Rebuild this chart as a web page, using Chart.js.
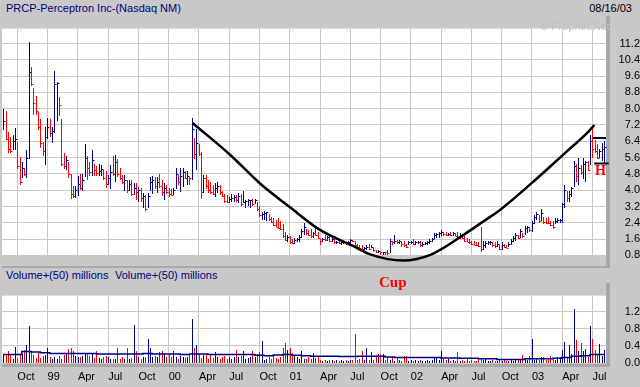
<!DOCTYPE html>
<html>
<head>
<meta charset="utf-8">
<script src="https://cdn.jsdelivr.net/npm/chart.js@4.4.1/dist/chart.umd.min.js"></script>
<style>
  body { margin: 0; width: 640px; height: 387px; overflow: hidden; position: relative;
         background: #c8c8c8; font-family: "Liberation Sans", Arial, sans-serif; }
  canvas { position: absolute; left: 0; }
  .txt { position: absolute; white-space: nowrap; font-size: 11px; line-height: 14px; }
  .mark { position: absolute; white-space: nowrap; color: #ff0000; font-weight: bold;
          font-family: "Liberation Serif", "Times New Roman", serif; }
  .edge { position: absolute; background: #a8a8a8; }
</style>
</head>
<body>
<div class="txt" style="left:6px;top:1px;color:#000080">PRCP-Perceptron Inc-(Nasdaq NM)</div>
<div class="txt" style="right:8px;top:1px;color:#000">08/16/03</div>
<div class="edge" style="left:606px;top:16px;width:4px;height:252px"></div>
<div class="edge" style="left:2px;top:266px;width:608px;height:2px"></div>
<div class="edge" style="left:606px;top:283px;width:4px;height:84px"></div>
<div class="edge" style="left:2px;top:364px;width:608px;height:3px"></div>
<canvas id="priceChart" width="640" height="252" style="top:16px"></canvas>
<canvas id="volChart" width="640" height="104" style="top:283px"></canvas>
<div class="txt" style="left:6px;top:268px;color:#000080">Volume+(50) millions</div>
<div class="txt" style="left:115px;top:268px;color:#000080">Volume+(50) millions</div>
<div class="txt" style="left:540px;top:19px;color:#c0c0c0">© Prophet.Net</div>
<div class="mark" style="left:379px;top:274px;font-size:15px">Cup</div>
<div class="mark" style="left:595px;top:163px;font-size:14px">H</div>
<script>
// weekly bars, week 0 ~ mid Aug 1998 (x axis = months since Jan 1998)
const firstWeek = 7.6;
const weekStep = 12 / 52;

const highs = [8.0,7.9,6.88,6.6,6.73,7.03,6.36,5.62,5.4,5.1,5.99,11.26,10.07,9.0,8.6,7.85,7.5,6.36,7.11,7.55,
  7.5,7.1,9.85,9.33,8.59,7.48,5.84,5.7,5.4,4.81,4.2,4.2,4.7,4.8,4.8,6.29,5.7,5.4,5.95,5.3,
  5.2,5.3,5.22,5.0,4.93,4.77,5.22,5.67,5.74,5.52,5.07,4.77,4.77,4.48,4.48,4.48,4.33,4.33,4.18,4.1,
  3.88,3.74,3.88,4.63,4.7,4.63,4.63,4.8,4.48,4.33,4.26,4.11,4.04,4.1,5.07,4.77,5.07,5.07,4.93,4.93,
  4.63,7.52,6.56,7.0,6.26,5.89,4.77,4.77,4.48,4.4,4.26,4.33,4.4,4.26,3.96,3.81,3.74,3.66,3.81,3.74,
  3.74,3.88,3.81,3.96,3.52,3.59,3.52,3.59,3.59,3.44,3.22,2.92,3.0,2.92,2.85,2.7,2.62,2.55,2.62,2.48,
  2.33,1.96,1.81,1.74,1.59,1.66,1.66,1.81,2.1,2.4,2.1,2.03,2.1,1.96,2.25,1.96,1.59,1.66,1.81,1.74,
  1.81,1.66,1.59,1.51,1.51,1.51,1.51,1.44,1.51,1.59,1.55,1.51,1.37,1.29,1.29,1.21,1.29,1.37,1.29,1.21,
  1.07,1.07,0.99,0.99,0.99,1.07,1.59,1.51,1.81,1.55,1.55,1.44,1.51,1.37,1.51,1.51,1.59,1.51,1.51,1.51,
  1.44,1.44,1.51,1.59,1.66,1.88,1.88,1.96,2.03,1.96,1.96,1.88,1.96,1.96,1.88,1.96,1.88,1.81,1.73,1.66,
  1.59,1.51,1.51,1.44,1.44,2.18,1.51,1.51,1.51,1.51,1.44,1.44,1.51,1.29,1.44,1.37,1.29,1.44,1.59,1.73,
  1.88,1.81,2.1,1.88,2.25,2.25,2.18,2.48,2.77,2.92,2.77,3.07,2.7,2.62,2.7,2.48,2.48,2.62,2.62,2.58,
  3.37,4.26,3.96,3.96,4.18,5.44,5.29,5.59,5.22,5.59,5.44,5.44,6.71,7.22,6.48,6.26,6.04,6.33,6.4];
const lows = [6.96,6.44,5.84,5.84,5.99,5.99,5.03,4.24,4.58,4.7,4.58,5.55,9.11,7.7,7.7,6.96,6.07,5.7,5.25,6.51,
  6.6,6.3,6.81,7.4,7.63,5.18,5.03,5.0,4.6,3.55,3.6,3.6,3.7,4.0,3.95,4.66,4.5,4.7,4.7,4.7,
  4.7,4.7,4.7,4.5,4.11,4.26,4.04,4.7,4.4,4.63,4.48,4.3,3.96,3.88,3.96,3.7,3.74,3.52,3.44,3.44,
  3.15,3.0,3.15,3.96,3.81,4.04,3.86,4.1,3.7,3.52,3.81,3.66,3.74,3.74,4.04,4.26,3.9,4.18,4.55,4.26,
  4.26,4.48,5.52,5.0,5.67,3.59,3.88,4.04,3.88,3.81,3.74,3.66,3.88,3.74,3.66,3.37,3.37,3.37,3.44,3.44,
  3.44,3.37,3.22,3.37,3.15,3.22,3.15,3.22,3.3,3.0,2.7,2.55,2.55,2.48,2.48,2.4,2.25,2.18,2.1,2.03,
  1.66,1.51,1.44,1.37,1.37,1.37,1.44,1.44,1.66,1.81,1.81,1.73,1.66,1.66,1.73,1.59,1.29,1.44,1.51,1.51,
  1.44,1.44,1.37,1.37,1.37,1.29,1.37,1.29,1.37,1.37,1.44,1.21,1.14,1.14,1.07,1.07,1.07,1.07,1.14,0.99,
  0.92,0.92,0.84,0.84,0.84,0.84,0.92,1.29,1.37,1.37,1.37,1.21,1.21,1.14,1.29,1.37,1.29,1.29,1.37,1.21,
  1.21,1.29,1.29,1.37,1.44,1.59,1.66,1.66,1.73,1.73,1.73,1.73,1.73,1.73,1.73,1.66,1.59,1.59,1.44,1.44,
  1.37,1.29,1.29,1.29,1.21,0.99,1.07,1.14,1.29,1.29,1.21,1.14,1.21,1.07,1.07,1.14,1.14,1.21,1.29,1.44,
  1.51,1.59,1.66,1.66,1.81,1.88,1.96,1.96,2.33,2.55,2.4,2.48,2.33,2.33,2.35,2.25,2.1,2.33,2.4,2.4,
  2.4,3.15,3.44,3.44,3.66,4.18,4.4,4.26,4.77,4.55,4.4,4.93,5.22,5.59,5.81,5.52,5.59,5.44,5.3];
const closes = [7.4,6.5,6.0,5.9,6.4,6.5,5.2,4.4,5.1,4.8,5.6,9.8,9.2,8.3,7.9,7.1,6.3,5.9,6.6,7.1,
  6.8,6.9,9.2,9.25,8.2,5.3,5.2,5.5,4.8,3.8,3.7,4.0,4.3,4.1,4.5,5.6,5.1,4.9,5.5,5.0,
  4.85,4.95,5.05,4.6,4.3,4.6,4.9,4.8,5.4,4.8,4.6,4.4,4.5,4.0,4.3,3.8,4.1,3.9,4.0,3.6,
  3.7,3.1,3.7,4.4,4.5,4.2,4.4,4.2,3.9,4.1,3.9,3.8,3.76,4.0,4.8,4.4,4.7,4.9,4.6,4.7,
  4.62,7.0,5.8,6.3,5.8,3.9,4.6,4.2,4.0,3.9,3.8,4.1,4.2,3.9,3.7,3.45,3.4,3.55,3.6,3.65,
  3.5,3.7,3.3,3.4,3.45,3.5,3.51,3.3,3.5,3.1,2.8,2.85,2.9,2.91,2.6,2.45,2.3,2.2,2.15,2.1,
  1.75,1.55,1.7,1.45,1.4,1.55,1.6,1.7,2.0,2.2,1.9,1.8,1.75,1.9,1.8,1.65,1.5,1.6,1.55,1.7,
  1.5,1.6,1.45,1.48,1.4,1.45,1.47,1.35,1.45,1.55,1.5,1.3,1.2,1.16,1.1,1.18,1.2,1.12,1.2,1.05,
  0.95,1.0,0.95,0.97,0.96,0.9,1.5,1.45,1.5,1.45,1.5,1.35,1.3,1.2,1.45,1.48,1.35,1.45,1.48,1.3,
  1.35,1.4,1.45,1.5,1.6,1.8,1.85,1.9,1.95,1.85,1.8,1.85,1.8,1.9,1.75,1.7,1.8,1.65,1.5,1.48,
  1.45,1.35,1.32,1.3,1.25,1.1,1.3,1.4,1.45,1.48,1.3,1.25,1.35,1.1,1.3,1.2,1.15,1.35,1.5,1.65,
  1.8,1.65,2.0,1.75,2.15,2.2,2.05,2.4,2.7,2.85,2.5,2.9,2.45,2.4,2.37,2.3,2.2,2.5,2.55,2.56,
  3.3,4.0,3.6,3.8,4.1,5.2,4.7,5.1,4.9,5.3,5.4,5.0,6.4,6.0,5.9,5.6,5.9,6.0,6.1];
// weekly volume, millions
const volumes = [0.22,0.18,0.28,0.18,0.085,0.38,0.12,0.18,0.22,0.3,0.43,0.86,
  0.28,0.18,0.12,0.25,0.12,0.16,0.18,0.35,0.14,0.1,0.14,0.1,0.16,0.085,0.18,0.22,0.32,0.34,0.28,0.16,
  0.14,0.14,0.16,0.23,0.23,0.16,0.22,0.12,0.28,0.12,0.1,0.14,0.16,0.14,0.1,0.085,0.1,0.34,0.1,0.14,
  0.085,0.34,0.1,0.12,0.9,
  0.28,0.14,0.1,0.14,0.14,0.56,0.35,0.14,0.16,0.14,0.25,0.27,0.23,0.14,0.22,0.14,0.27,0.14,0.1,0.16,
  0.14,0.12,0.14,0.18,1.02,
  0.35,0.43,0.22,0.12,0.18,0.22,0.1,0.18,0.12,0.25,0.14,0.1,0.14,0.16,0.1,0.15,0.1,0.14,0.3,0.14,
  0.16,0.28,0.1,0.12,0.14,0.27,0.14,0.22,0.25,0.51,
  0.07,0.1,0.14,0.1,0.16,0.12,0.1,0.15,0.36,0.48,0.3,0.36,0.23,0.16,0.14,0.1,0.28,0.085,0.085,0.14,
  0.085,0.23,0.12,0.14,
  0.06,0.05,0.07,0.05,0.06,0.08,0.05,0.06,0.04,0.07,0.05,0.06,0.05,0.08,0.06,0.67,
  0.08,0.1,0.28,0.07,0.36,0.06,0.25,0.07,0.18,0.2,0.22,0.2,0.06,0.14,0.07,0.14,0.05,0.12,0.06,0.05,
  0.16,0.16,
  0.05,0.06,0.04,0.07,0.05,0.06,0.05,0.04,0.06,0.05,0.07,
  0.14,0.15,0.06,0.28,0.1,0.06,0.085,0.05,0.06,0.05,0.25,
  0.05,0.06,0.04,0.085,0.05,0.06,0.05,0.04,0.12,
  0.09,0.06,0.085,0.05,0.04,0.07,0.05,0.04,0.06,0.05,0.07,0.04,0.05,0.085,0.05,0.06,0.085,0.06,
  0.18,0.06,0.07,0.16,0.57,0.07,0.085,0.06,0.14,0.14,0.06,0.07,0.16,0.12,0.08,0.14,0.14,0.3,0.49,0.14,
  0.43,0.22,1.26,0.55,0.28,0.47,0.28,0.32,0.15,0.87,0.57,0.3,0.18,0.45,0.16,0.3];
// 50 day average volume, one reading every 4 weeks
const volAvg = [0.2,0.2,0.2,0.27,0.26,0.24,0.22,0.22,0.22,0.22,0.22,0.21,0.21,0.21,0.21,0.21,
  0.22,0.21,0.21,0.21,0.2,0.21,0.21,0.2,0.2,0.2,0.2,0.2,0.18,0.17,0.19,0.2,0.18,0.17,0.16,0.16,
  0.16,0.15,0.15,0.16,0.16,0.16,0.14,0.13,0.13,0.13,0.13,0.13,0.12,0.12,0.11,0.11,0.1,0.1,0.08,
  0.08,0.08,0.1,0.1,0.1,0.11,0.13,0.16,0.17,0.2];

// cup drawn on the chart (month, price)
const cupMonths = [26.36,30.08,33.05,36.03,39.0,42.36,44.04,47.22,50.0,53.26,55.25,56.93,59.91,63.38,65.56,66.19];
const cupPrices = [7.30,5.74,4.33,3.16,2.05,1.24,0.84,0.55,0.84,1.82,2.49,3.07,4.32,5.87,6.85,7.20];
// handle top and bottom
const handleTop = [[66.03,6.56],[67.34,6.56]];
const handleLow = [[66.16,5.31],[67.61,5.31]];

const tickMonths = [9,12,15,18,21,24,27,30,33,36,39,42,45,48,51,54,57,60,63,66];
const tickLabels = ['Oct','99','Apr','Jul','Oct','00','Apr','Jul','Oct','01','Apr','Jul','Oct','02','Apr','Jul','Oct','03','Apr','Jul'];
const priceTicks = [0.8,1.6,2.4,3.2,4.0,4.8,5.6,6.4,7.2,8.0,8.8,9.6,10.4,11.2];
const volTicks = [0.0,0.4,0.8,1.2];

const NAVY = '#000080';
const RED = '#ff0000';
const GRID = '#c8c8c8';
const barX = i => firstWeek + i * weekStep;
const colors = closes.map((c, i) => (i === 0 || c >= closes[i - 1]) ? NAVY : RED);

const whiteArea = {
    id: 'whiteArea',
    beforeDraw(chart) {
        const a = chart.chartArea;
        chart.ctx.save();
        chart.ctx.fillStyle = '#ffffff';
        chart.ctx.fillRect(a.left, a.top, a.right - a.left, a.bottom - a.top);
        chart.ctx.restore();
    }
};

// thin 1px stick per week (high-low or 0-volume) plus close tick, snapped to pixels
function sticks(tops, bottoms, ticks) {
    return {
        id: 'sticks',
        beforeDatasetsDraw(chart) {
            const ctx = chart.ctx, xs = chart.scales.x, ys = chart.scales.y;
            ctx.save();
            ctx.lineWidth = 1;
            tops.forEach((t, i) => {
                const px = Math.round(xs.getPixelForValue(barX(i))) + 0.5;
                const y1 = Math.round(ys.getPixelForValue(t));
                const y2 = Math.round(ys.getPixelForValue(bottoms ? bottoms[i] : 0));
                ctx.strokeStyle = colors[i];
                ctx.beginPath();
                ctx.moveTo(px, Math.min(y1, y2 - 1));
                ctx.lineTo(px, y2);
                ctx.stroke();
                if (ticks) {
                    const py = Math.round(ys.getPixelForValue(ticks[i])) + 0.5;
                    ctx.beginPath();
                    ctx.moveTo(px, py);
                    ctx.lineTo(px + 2, py);
                    ctx.stroke();
                }
            });
            ctx.restore();
        }
    };
}

const axisFont = { family: '"Liberation Sans", Arial, sans-serif', size: 11 };

function xScale(showLabels) {
    return {
        type: 'linear', min: 7.48, max: 67.34, offset: false, bounds: 'data',
        grid: { color: GRID, drawTicks: false, offset: false },
        border: { display: false },
        afterBuildTicks: s => { s.ticks = tickMonths.map(v => ({ value: v })); },
        ticks: {
            display: showLabels, align: 'start', padding: 7, color: '#000', font: axisFont,
            maxRotation: 0, autoSkip: false,
            callback: (v, i) => tickLabels[i]
        },
        afterFit: s => { s.height = showLabels ? 24 : 0; }
    };
}

function yScale(min, max, ticks) {
    return {
        position: 'right', min: min, max: max,
        grid: { color: GRID, drawTicks: false },
        border: { display: false },
        afterBuildTicks: s => { s.ticks = ticks.map(v => ({ value: v })); },
        ticks: { padding: 6, crossAlign: 'far', color: '#000', font: axisFont,
                 callback: v => v.toFixed(1) },
        afterFit: s => { s.width = 34; }
    };
}

new Chart(document.getElementById('priceChart'), {
    type: 'line',
    data: {
        datasets: [
            {
                data: cupMonths.map((m, i) => ({ x: m, y: cupPrices[i] })),
                borderColor: '#000', borderWidth: 2.5, pointRadius: 0,
                cubicInterpolationMode: 'monotone', clip: false
            },
            {
                data: handleTop.map(p => ({ x: p[0], y: p[1] })),
                borderColor: '#000', borderWidth: 2, pointRadius: 0, clip: false
            },
            {
                data: handleLow.map(p => ({ x: p[0], y: p[1] })),
                borderColor: '#000', borderWidth: 2, pointRadius: 0, clip: false
            }
        ]
    },
    options: {
        responsive: false, animation: false,
        layout: { padding: { left: 2, right: 0, top: 0, bottom: 2 } },
        plugins: { legend: { display: false }, tooltip: { enabled: false } },
        scales: { x: xScale(false), y: yScale(0.8, 11.93, priceTicks) }
    },
    plugins: [whiteArea, sticks(highs, lows, closes)]
});

new Chart(document.getElementById('volChart'), {
    type: 'line',
    data: {
        datasets: [
            {
                data: volAvg.map((v, k) => ({ x: barX(k * 4), y: v }))
                    .concat([{ x: barX(volumes.length - 1), y: volAvg[volAvg.length - 1] }]),
                borderColor: NAVY, borderWidth: 1.5, pointRadius: 0, stepped: 'after'
            }
        ]
    },
    options: {
        responsive: false, animation: false,
        layout: { padding: { left: 2, right: 0, top: 0, bottom: 0 } },
        plugins: { legend: { display: false }, tooltip: { enabled: false } },
        scales: { x: xScale(true), y: yScale(0, 1.58, volTicks) }
    },
    plugins: [whiteArea, sticks(volumes, null, null)]
});
</script>
</body>
</html>
